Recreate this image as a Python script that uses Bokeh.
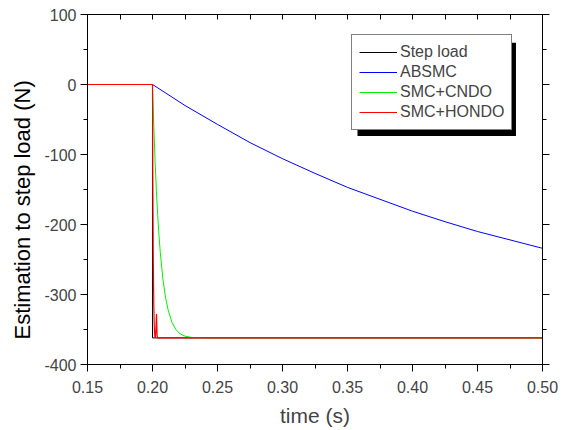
from bokeh.plotting import figure
from bokeh.models import (LinearAxis, FixedTicker, NumeralTickFormatter, Legend,
                          LegendItem, BoxAnnotation, Title, CustomJSTickFormatter)
from bokeh.embed import file_html
from bokeh.resources import INLINE

# Step load applied at t = 0.2 s
time_step = [0.15, 0.20, 0.20, 0.50]
load_step = [0, 0, -362, -362]

# ABSMC estimate (slow convergence)
time_absmc = [0.15, 0.20, 0.225, 0.25, 0.275, 0.30, 0.325, 0.35, 0.375,
              0.40, 0.425, 0.45, 0.475, 0.50]
load_absmc = [0, 0, -30, -57, -83, -106, -127, -147, -164,
              -181, -196, -210, -222, -234]

# SMC+CNDO estimate
time_cndo = [0.15, 0.20, 0.201, 0.202, 0.203, 0.204, 0.205, 0.206, 0.208,
             0.210, 0.212, 0.215, 0.218, 0.221, 0.225, 0.23, 0.24, 0.50]
load_cndo = [0, 0, -60, -110, -152, -187, -216, -240, -278,
             -304, -322, -340, -350, -356, -359.5, -361.3, -362, -362]

# SMC+HONDO estimate
time_hondo = [0.15, 0.20, 0.2003, 0.2006, 0.201, 0.2014, 0.2018, 0.2022,
              0.2026, 0.2031, 0.2035, 0.204, 0.50]
load_hondo = [0, 0, -150, -250, -315, -348, -360, -362,
              -350, -328, -358, -362, -362]

x_ticks = [0.15, 0.20, 0.25, 0.30, 0.35, 0.40, 0.45, 0.50]
x_minor = [0.175, 0.225, 0.275, 0.325, 0.375, 0.425, 0.475]
y_ticks = [-400, -300, -200, -100, 0, 100]
y_minor = [-350, -250, -150, -50, 50]

FONT = "Liberation Sans"

p = figure(width=572, height=430, output_backend="svg", toolbar_location=None,
           x_range=(0.15, 0.50), y_range=(-400, 100),
           min_border_left=87, min_border_right=30,
           min_border_top=14, min_border_bottom=66)
p.background_fill_color = "white"
p.border_fill_color = "white"
p.outline_line_color = "black"
p.grid.visible = False

xt = FixedTicker(ticks=x_ticks, minor_ticks=x_minor)
yt = FixedTicker(ticks=y_ticks, minor_ticks=y_minor)
blank = CustomJSTickFormatter(code="return ''")

for ax in p.xaxis:
    ax.ticker = xt
    ax.formatter = NumeralTickFormatter(format="0.00")
    ax.axis_label = "time (s)"
    ax.axis_label_text_font = FONT
    ax.axis_label_text_font_size = "21px"
    ax.axis_label_text_font_style = "normal"
    ax.axis_label_standoff = 8
    ax.major_label_text_font = FONT
    ax.major_label_text_font_size = "16px"
    ax.major_label_standoff = 9
    ax.major_tick_out = 7
    ax.major_tick_in = 0
    ax.minor_tick_out = 4
    ax.minor_tick_in = 0
    ax.axis_line_color = "black"

for ax in p.yaxis:
    ax.ticker = yt
    ax.formatter = NumeralTickFormatter(format="0")
    ax.major_label_text_font = FONT
    ax.major_label_text_font_size = "16px"
    ax.major_label_standoff = 4
    ax.major_tick_out = 7
    ax.major_tick_in = 0
    ax.minor_tick_out = 4
    ax.minor_tick_in = 0
    ax.axis_line_color = "black"

# mirrored axes without labels
top = LinearAxis(ticker=xt, formatter=blank, major_label_standoff=0,
                 major_tick_in=5, major_tick_out=0,
                 minor_tick_in=5, minor_tick_out=0)
p.add_layout(top, "above")
right = LinearAxis(ticker=yt, formatter=blank, major_label_standoff=0,
                   major_tick_in=0, major_tick_out=7,
                   minor_tick_in=0, minor_tick_out=4)
p.add_layout(right, "right")

r_step = p.line(time_step, load_step, line_color="black", line_width=1)
r_absmc = p.line(time_absmc, load_absmc, line_color="#0000ff", line_width=1)
r_cndo = p.line(time_cndo, load_cndo, line_color="#00f000", line_width=1)
r_hondo = p.line(time_hondo, load_hondo, line_color="#ff0000", line_width=1.2)

# y axis title, anchored from the bottom of the frame
p.add_layout(Title(text="Estimation to step load (N)", align="left",
                   offset=25, text_font=FONT, text_font_size="22px",
                   text_font_style="normal", text_color="black",
                   standoff=13), "left")

# legend drop shadow
p.add_layout(BoxAnnotation(left=0.3577, right=0.4796, top=59.8, bottom=-73.5,
                           fill_color="black", fill_alpha=1, line_alpha=0,
                           level="annotation"))

legend = Legend(items=[LegendItem(label="Step load", renderers=[r_step]),
                       LegendItem(label="ABSMC", renderers=[r_absmc]),
                       LegendItem(label="SMC+CNDO", renderers=[r_cndo]),
                       LegendItem(label="SMC+HONDO", renderers=[r_hondo])],
                location=(264, 234))
legend.label_text_font = FONT
legend.label_text_font_size = "16px"
legend.label_height = 20
legend.glyph_height = 20
legend.glyph_width = 38
legend.label_standoff = 3
legend.spacing = 0
legend.padding = 7
legend.margin = 0
legend.border_line_color = "black"
legend.border_line_width = 1
legend.background_fill_color = "white"
legend.background_fill_alpha = 1
p.add_layout(legend, "center")

open("out.html", "w").write(file_html(p, INLINE))
